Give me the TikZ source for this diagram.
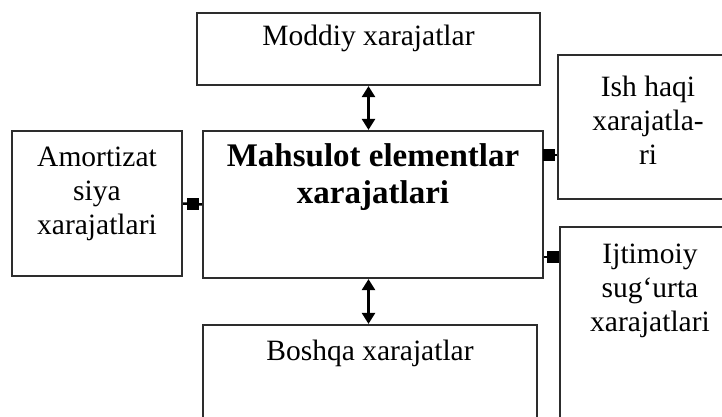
\documentclass[tikz,border=0pt]{standalone}
\usepackage{fontspec}
\setmainfont{Liberation Serif}
\usetikzlibrary{arrows.meta, positioning}
\definecolor{boxline}{RGB}{45,45,45}
\tikzset{
  >=latex,
  % bloklar
  blok/.style={draw=boxline,line width=2.2pt,inner sep=0},
  matn/.style={align=center,font=\fontsize{29.5}{34}\selectfont},
  matn bold/.style={align=center,font=\fontsize{33}{37}\selectfont\bfseries},
  % ulanishlar
  ikki/.style={{Triangle[length=11pt,width=13pt]}-{Triangle[length=11pt,width=13pt]},line width=2.5pt},
  ulash/.style={line width=2.5pt},
  kv/.style={fill=black,minimum size=12pt,inner sep=0}
}
\begin{document}
\begin{tikzpicture}[x=1pt,y=-1pt]
    \useasboundingbox (0,0) rectangle (722,417);
    \clip (0,0) rectangle (722,417);
    % bloklar
    \node[blok,minimum width=343pt,minimum height=72pt] (mod) at (368.5,49) {};
    \node[blok,minimum width=340pt,minimum height=147pt] (elem) at (373,204.5) {};
    \node[blok,minimum width=170pt,minimum height=145pt] (amort) at (97,203.5) {};
    \node[blok,minimum width=180pt,minimum height=144pt] (ish) at (648,127) {};
    \node[blok,minimum width=180pt,minimum height=223pt] (ijt) at (650,338.5) {};
    \node[blok,minimum width=334pt,minimum height=125pt] (bosh) at (370,387.5) {};
    % matnlar
    \node[matn] (modtxt) at ([yshift=-27pt]mod.north) {Moddiy xarajatlar};
    \node[matn bold] (elemtxt) at ([yshift=-47pt]elem.north) {Mahsulot elementlar\\xarajatlari};
    \node[matn] (amorttxt) at ([yshift=-64pt]amort.north) {Amortizat\\siya\\xarajatlari};
    \node[matn] (ishtxt) at ([yshift=-66pt]ish.north) {Ish haqi\\xarajatla-\\ri};
    \node[matn] (ijttxt) at ([yshift=-65pt]ijt.north) {Ijtimoiy\\sug`urta\\xarajatlari};
    \node[matn] (boshtxt) at ([yshift=-30pt]bosh.north) {Boshqa xarajatlar};
    % strelkalar
    \draw[ikki] (mod.south) -- (mod.south |- elem.north);
    \draw[ikki] (elem.south -| mod.south) -- (bosh.north -| mod.south);
    % kvadratli ulanishlar
    \coordinate (r1) at (549,155);
    \coordinate (r2) at (553,257);
    \draw[ulash] (amort.east) -- node[kv]{} (elem.west);
    \draw[ulash] (elem.east |- r1) -- (ish.west |- r1);
    \node[kv] (k1) at (r1) {};
    \draw[ulash] (elem.east |- r2) -- (ijt.west |- r2);
    \node[kv] (k2) at (r2) {};
\end{tikzpicture}
\end{document}
